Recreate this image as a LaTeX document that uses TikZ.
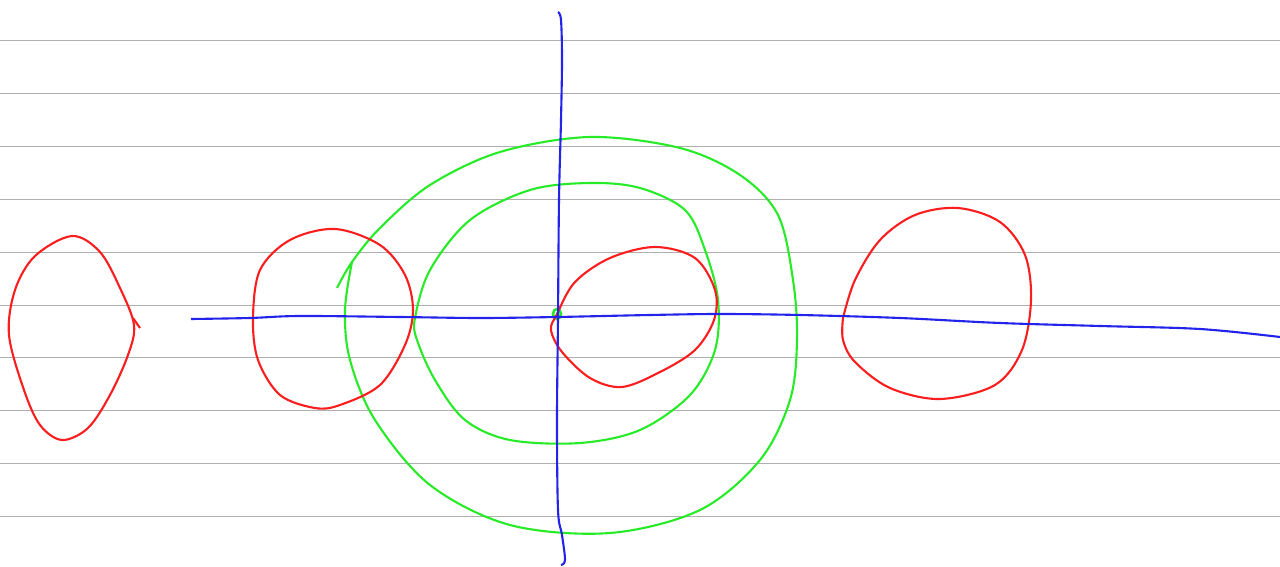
\documentclass[tikz,border=0pt]{standalone}
\usepackage{xcolor}
\usepackage{tikz}
\definecolor{penred}{RGB}{250,30,30}
\definecolor{pengreen}{RGB}{40,235,40}
\definecolor{penblue}{RGB}{35,35,235}
\definecolor{rulegray}{RGB}{175,175,175}
\begin{document}
\begin{tikzpicture}[x=0.02cm,y=-0.02cm]
        \useasboundingbox (0,0) rectangle (1280,567);
        % Ruled lines
        \foreach \y in {40,93,146,199,252,305,357,410,463,516}
            \draw[rulegray, line width=0.5pt] (0,\y) -- (1280,\y);
        % Green spiral
        \draw[pengreen, line width=1.2pt] plot[smooth, tension=0.55] coordinates {(337,288) (352,262) (380,228) (430,185) (500,152) (590,137) (680,148) (740,175) (778,215) (793,280) (797,340) (790,400) (760,460) (700,510) (610,533) (510,525) (430,485) (375,420) (350,360) (345,310) (352,262)};
        \draw[pengreen, line width=1.2pt] plot[smooth cycle, tension=0.55] coordinates {(415,318) (430,270) (470,220) (530,190) (590,183) (640,188) (685,210) (705,250) (718,300) (715,350) (690,395) (640,430) (580,443) (510,440) (465,420) (435,380) (417,340)};
        \draw[pengreen, line width=1.5pt] (557,314) ellipse (4 and 5);
        % Red loops
        \draw[penred, line width=1.2pt] plot[smooth cycle, tension=0.55] coordinates {(72,236) (100,252) (120,288) (134,325) (128,355) (110,395) (88,428) (62,440) (40,425) (24,390) (9,335) (15,290) (35,256)};
        \draw[penred, line width=1.2pt] (133,318) -- (140,328);
        \draw[penred, line width=1.2pt] plot[smooth cycle, tension=0.55] coordinates {(335,229) (380,245) (405,275) (413,310) (405,345) (380,385) (340,405) (315,408) (280,395) (258,360) (253,318) (260,270) (290,240)};
        \draw[penred, line width=1.2pt] plot[smooth cycle, tension=0.55] coordinates {(557,314) (575,282) (610,258) (655,247) (695,258) (715,290) (714,320) (695,350) (660,372) (622,387) (590,378) (562,352) (551,330)};
        \draw[penred, line width=1.2pt] plot[smooth, tension=0.55] coordinates {(843,318) (855,280) (880,240) (915,215) (958,208) (1000,222) (1025,255) (1031,300) (1022,350) (995,385) (940,399) (890,388) (855,362) (843,340) (843,318)};
        % Axes
        \draw[penblue, line width=1.2pt] plot[smooth, tension=0.55] coordinates {(191,319) (250,318) (300,316) (400,317) (480,318) (557,317) (650,315) (720,314) (800,315) (900,318) (1000,323) (1100,326) (1200,329) (1280,337)};
        \draw[penblue, line width=1.2pt] plot[smooth, tension=0.55] coordinates {(558,12) (561,20) (562,60) (561,120) (559,200) (558,317) (557,420) (558,510) (562,535) (565,560) (561,565)};
    \end{tikzpicture}
\end{document}
